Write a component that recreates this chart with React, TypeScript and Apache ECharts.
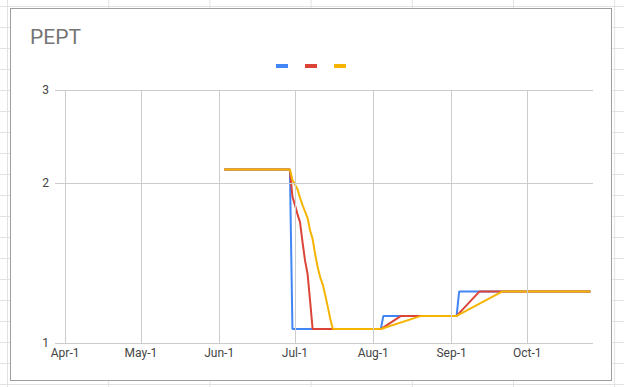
import React, { useEffect, useRef } from "react";
import * as echarts from "echarts";

// ---- data ----
const seriesNames = ["Series A", "Series B", "Series C"];
const seriesColors = ["#4285f4", "#db4437", "#f4b400"];

const blueDates = ["2021-06-03", "2021-06-29", "2021-06-30", "2021-08-04", "2021-08-05", "2021-09-03", "2021-09-04", "2021-10-26"];
const blueValues = [2.125, 2.125, 1.0625, 1.0625, 1.125, 1.125, 1.25, 1.25];

const redDates = [
  "2021-06-03", "2021-06-29", "2021-06-30", "2021-07-01", "2021-07-02", "2021-07-03", "2021-07-04",
  "2021-07-05", "2021-07-06", "2021-07-07", "2021-07-08", "2021-08-04", "2021-08-12", "2021-09-03",
  "2021-09-12", "2021-10-26",
];
const redValues = [2.125, 2.125, 1.89, 1.82, 1.75, 1.69, 1.55, 1.43, 1.35, 1.2, 1.0625, 1.0625, 1.125, 1.125, 1.25, 1.25];

const yellowDates = [
  "2021-06-03", "2021-06-29", "2021-06-30", "2021-07-01", "2021-07-02", "2021-07-03", "2021-07-04",
  "2021-07-05", "2021-07-06", "2021-07-07", "2021-07-08", "2021-07-09", "2021-07-10", "2021-07-11",
  "2021-07-12", "2021-07-13", "2021-07-14", "2021-07-15", "2021-07-16", "2021-08-04", "2021-08-20",
  "2021-09-03", "2021-09-21", "2021-10-26",
];
const yellowValues = [
  2.125, 2.125, 2.03, 1.99, 1.95, 1.88, 1.82, 1.77, 1.72, 1.63, 1.57, 1.47, 1.39, 1.33, 1.29, 1.23,
  1.17, 1.11, 1.0625, 1.0625, 1.125, 1.125, 1.25, 1.25,
];

const xTickDates = ["2021-04-01", "2021-05-01", "2021-06-01", "2021-07-01", "2021-08-01", "2021-09-01", "2021-10-01"];
const xTickLabels = ["Apr-1", "May-1", "Jun-1", "Jul-1", "Aug-1", "Sep-1", "Oct-1"];
const yTicks = [1, 2, 3];
const xMinDate = "2021-03-28";
const xMaxDate = "2021-10-27";
const chartTitle = "PEPT";

function toTime(s: string): number {
  const [y, m, d] = s.split("-").map(Number);
  return new Date(y, m - 1, d).getTime();
}

function pairs(dates: string[], values: number[]) {
  return dates.map((d, i) => [toTime(d), values[i]]);
}

export default function App() {
  const ref = useRef<HTMLDivElement>(null);

  useEffect(() => {
    if (!ref.current) return;
    const chart = echarts.init(ref.current, null, { renderer: "svg" });
    const font = "Roboto";
    const gridColor = "#cccccc";

    const dataSets = [
      pairs(blueDates, blueValues),
      pairs(redDates, redValues),
      pairs(yellowDates, yellowValues),
    ];

    const markLineData: any[] = [
      ...yTicks.map((v) => ({
        yAxis: v,
        label: { formatter: String(v), position: "start", distance: 6, color: "#444", fontSize: 12, fontFamily: font },
      })),
      ...xTickDates.map((d, i) => ({
        xAxis: toTime(d),
        label: { formatter: xTickLabels[i], position: "start", distance: 4, color: "#444", fontSize: 12, fontFamily: font },
      })),
    ];

    chart.setOption({
      animation: false,
      backgroundColor: "#ffffff",
      textStyle: { fontFamily: font },
      title: {
        text: chartTitle,
        left: 14,
        top: 12,
        textStyle: { fontSize: 21, fontWeight: "normal", color: "#757575", fontFamily: font },
      },
      legend: {
        data: seriesNames,
        left: "center",
        top: 50,
        icon: "rect",
        itemWidth: 12,
        itemHeight: 4,
        itemGap: 17,
        formatter: () => "",
        selectedMode: false,
      },
      grid: { left: 44, right: 18, top: 81, bottom: 37 },
      xAxis: {
        type: "time",
        min: toTime(xMinDate),
        max: toTime(xMaxDate),
        axisLine: { show: false },
        axisTick: { show: false },
        axisLabel: { show: false },
        splitLine: { show: false },
      },
      yAxis: {
        type: "log",
        logBase: 10,
        min: 1,
        max: 3,
        axisLine: { show: false },
        axisTick: { show: false },
        axisLabel: { show: false },
        splitLine: { show: false },
        minorSplitLine: { show: false },
      },
      series: [
        {
          type: "line",
          name: "grid",
          data: [],
          z: 1,
          silent: true,
          markLine: {
            silent: true,
            symbol: ["none", "none"],
            animation: false,
            lineStyle: { color: gridColor, width: 1, type: "solid" },
            emphasis: { disabled: true },
            data: markLineData,
          },
        },
        ...dataSets.map((data, i) => ({
          type: "line",
          name: seriesNames[i],
          data,
          z: 2 + i,
          showSymbol: false,
          symbol: "none",
          color: seriesColors[i],
          lineStyle: { width: 2, color: seriesColors[i] },
        })),
      ],
    });
    return () => chart.dispose();
  }, []);

  const sheetGrid =
    "linear-gradient(to right, #e2e2e2 1px, transparent 1px), linear-gradient(to bottom, #e2e2e2 1px, transparent 1px)";

  return (
    <div
      style={{
        position: "fixed",
        left: 0,
        top: 0,
        width: 624,
        height: 387,
        backgroundColor: "#ffffff",
        backgroundImage: sheetGrid,
        backgroundSize: "101.2px 21px",
        backgroundPosition: "7px 6px",
        overflow: "hidden",
      }}
    >
      <div
        style={{
          position: "absolute",
          left: 10,
          top: 8,
          width: 602,
          height: 373,
          boxSizing: "border-box",
          border: "1px solid #9e9e9e",
          background: "#ffffff",
        }}
      >
        <div ref={ref} style={{ width: 600, height: 371 }} />
      </div>
    </div>
  );
}
